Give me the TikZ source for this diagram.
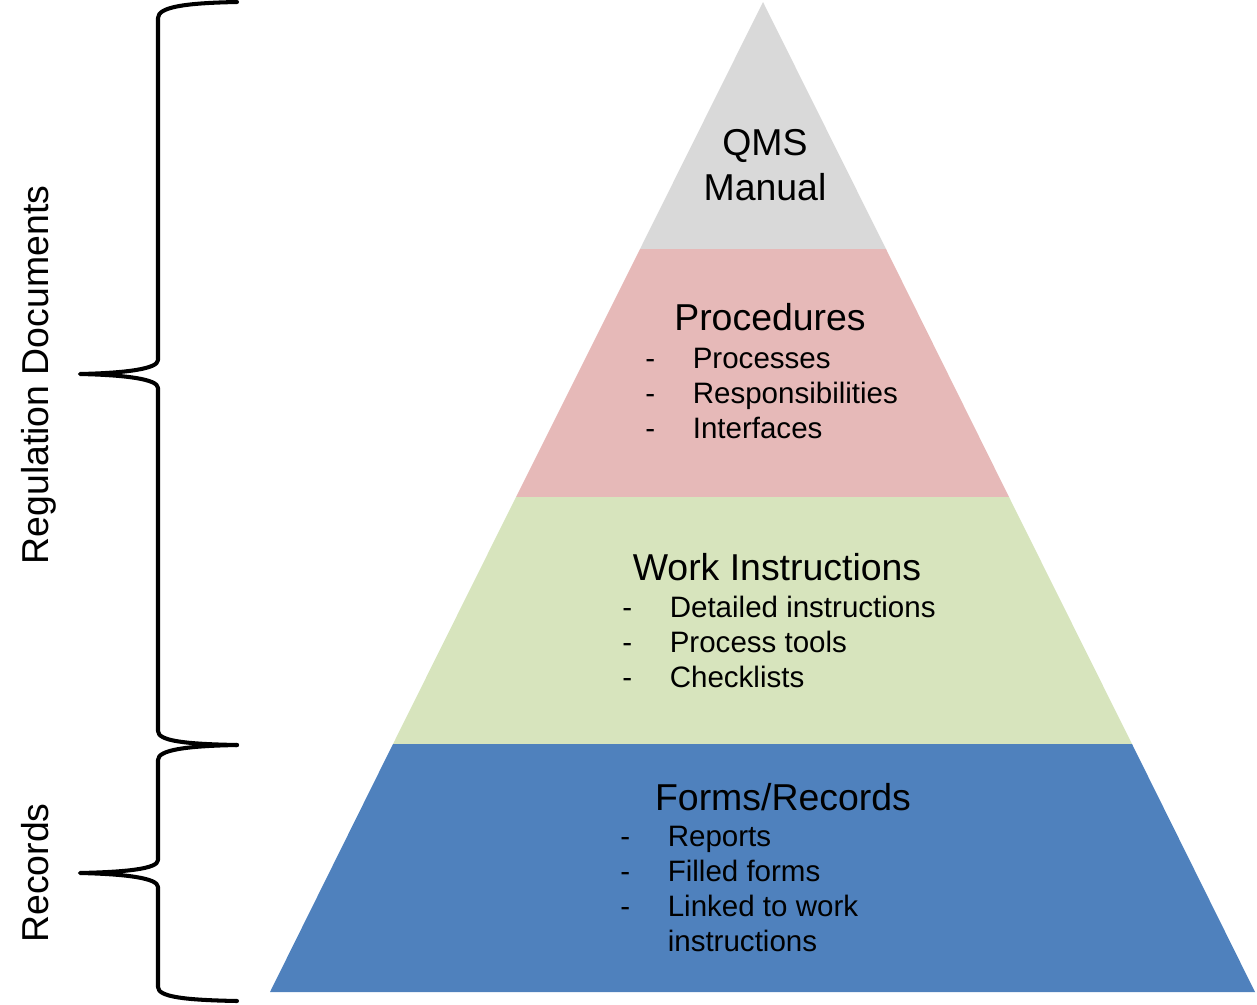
\documentclass[tikz,border=0pt]{standalone}
\usepackage{fontspec}
\setmainfont{Liberation Sans}
\usepackage{xcolor}
\usepackage{tikz}
\definecolor{qmsgray}{RGB}{217,217,217}
\definecolor{procpink}{RGB}{230,185,184}
\definecolor{workgreen}{RGB}{215,228,189}
\definecolor{formblue}{RGB}{79,129,189}
\newcommand{\dashitem}[1]{\makebox[27pt][l]{-}#1}

\begin{document}
\begin{tikzpicture}[x=0.2mm, y=-0.2mm,
    level/.style={draw=none},
    title/.style={anchor=base, inner sep=0pt, font=\fontsize{21.3}{25}\selectfont},
    item/.style={anchor=base west, inner sep=0pt, font=\fontsize{16.8}{20}\selectfont},
    side/.style={rotate=90, anchor=base, inner sep=0pt, font=\fontsize{21.3}{25}\selectfont},
    curly/.style={line width=2.3pt, line cap=round, line join=round}
]
\useasboundingbox (0,0) rectangle (1257,1004);

% Pyramid levels
\fill[level, qmsgray] (763,2) -- (886,249) -- (640,249) -- cycle;
\fill[level, procpink] (640,249) -- (886,249) -- (1009,497) -- (516,497) -- cycle;
\fill[level, workgreen] (516,497) -- (1009,497) -- (1132,744) -- (393,744) -- cycle;
\fill[level, formblue] (393,744) -- (1132,744) -- (1255,992) -- (270,992) -- cycle;

% Top level
\node[title] (qms) at (765,155) {QMS};
\node[title] (manual) at (765,200) {Manual};

% Procedures
\node[title] (proc) at (770,330) {Procedures};
\node[item] (procA) at (645,368) {\dashitem{Processes}};
\node[item] (procB) at (645,403) {\dashitem{Responsibilities}};
\node[item] (procC) at (645,438) {\dashitem{Interfaces}};

% Work instructions
\node[title] (work) at (777,580) {Work Instructions};
\node[item] (workA) at (622,617) {\dashitem{Detailed instructions}};
\node[item] (workB) at (622,652) {\dashitem{Process tools}};
\node[item] (workC) at (622,687) {\dashitem{Checklists}};

% Forms and records
\node[title] (forms) at (783,810) {Forms/Records};
\node[item] (formA) at (620,846) {\dashitem{Reports}};
\node[item] (formB) at (620,881) {\dashitem{Filled forms}};
\node[item] (formC) at (620,916) {\dashitem{Linked to work}};
\node[item] (formD) at (620,951) {\makebox[27pt][l]{}instructions};

% Braces and side labels
\draw[curly] (237,2) .. controls (185,3) and (158,7) .. (158,18) -- (158,360)
  .. controls (158,369) and (125,373) .. (80,374)
  .. controls (125,375) and (158,379) .. (158,388) -- (158,731)
  .. controls (158,741) and (185,744) .. (237,745);
\draw[curly] (237,745) .. controls (185,746) and (158,750) .. (158,760) -- (158,860)
  .. controls (158,869) and (125,872) .. (80,873)
  .. controls (125,874) and (158,878) .. (158,887) -- (158,987)
  .. controls (158,997) and (185,1000) .. (237,1001);
\node[side] (regdocs) at (49,375) {Regulation Documents};
\node[side] (records) at (49,873) {Records};

\end{tikzpicture}
\end{document}
